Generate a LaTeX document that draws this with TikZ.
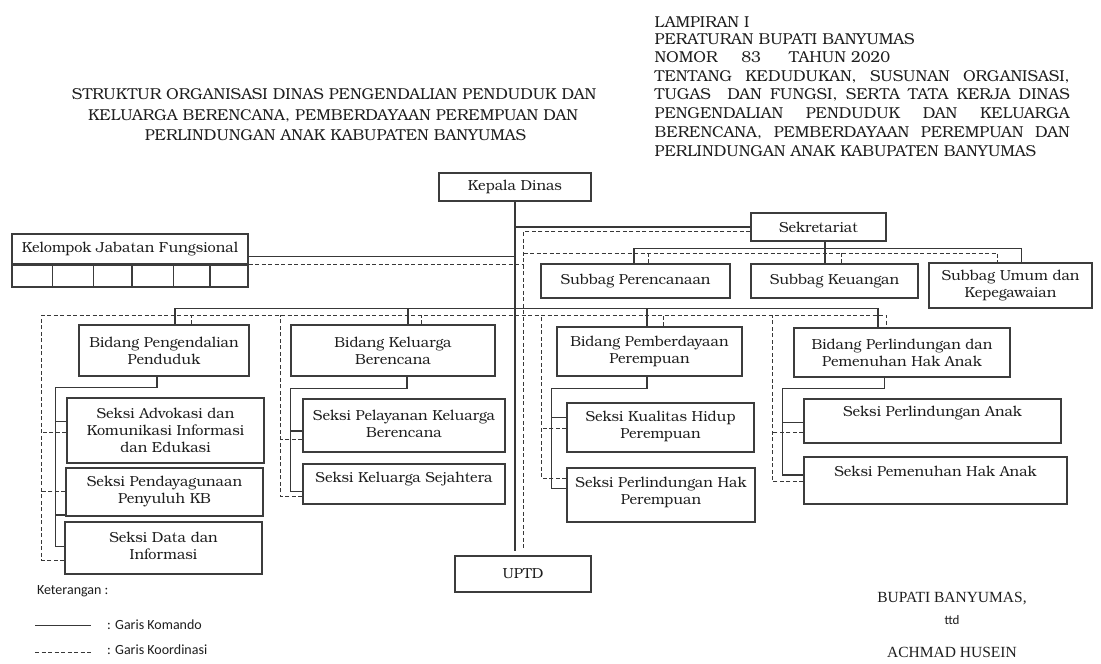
\documentclass[tikz,border=0pt]{standalone}
\usepackage{fontspec}
\setmainfont{TeX Gyre Bonum}
\newfontfamily\tmsfont{Liberation Serif}
\newfontfamily\calfont{Carlito}
\definecolor{bx}{HTML}{3C3C3C}
\definecolor{ln}{HTML}{383838}
\definecolor{tx}{HTML}{1E1E1E}
\tikzset{
 obox/.style={draw=bx, line width=1.2pt, inner sep=0pt, fill=white},
 btxt/.style={align=center, inner sep=0pt, text=tx, font=\fontsize{14.5}{17}\selectfont},
 cmd/.style={draw=ln, line width=1.1pt},
 crd/.style={draw=ln, line width=0.9pt, dash pattern=on 4pt off 2.5pt},
 legd/.style={draw=ln, line width=0.9pt, dash pattern=on 4pt off 2.5pt},
 htxt/.style={anchor=base west, inner sep=0pt, text=tx, font=\fontsize{15.8}{18}\selectfont},
 ttxt/.style={anchor=base, inner sep=0pt, text=tx, font=\fontsize{15.8}{18}\selectfont},
 lgt/.style={inner sep=0pt, text=tx, font=\calfont\fontsize{14}{16}\selectfont},
 sig/.style={inner sep=0pt, text=tx, font=\tmsfont\fontsize{15.5}{18}\selectfont},
}
\newcommand\obx[7]{%
 \node[obox, minimum width={(#4-#2)*1pt}, minimum height={(#5-#3)*1pt}] (#1) at ({(#2+#4)/2},{(#3+#5)/2}) {};
 \node[btxt] (#1-t) at ({(#2+#4)/2},{(#3+#5)/2+#6}) {#7};
}
\begin{document}
\begin{tikzpicture}[x=1pt,y=-1pt]
\useasboundingbox[fill=white] (0,0) rectangle (1101,664);

% title
\node[ttxt] (t1) at (334,99.8) {STRUKTUR ORGANISASI DINAS PENGENDALIAN PENDUDUK DAN};
\node[ttxt] (t2) at (333,120.4) {KELUARGA BERENCANA, PEMBERDAYAAN PEREMPUAN DAN};
\node[ttxt] (t3) at (335.5,140.7) {PERLINDUNGAN ANAK KABUPATEN BANYUMAS};

% header
\node[htxt] (h1) at (654.5,27.1) {LAMPIRAN I};
\node[htxt] (h2) at (654.5,44.7) {PERATURAN BUPATI BANYUMAS};
\node[htxt] (h3) at (654.5,62.7) {NOMOR\hspace{24pt}83\hspace{28pt}TAHUN 2020};
\node[htxt] (h4) at (654.5,81.4) {\makebox[415pt][s]{TENTANG KEDUDUKAN, SUSUNAN ORGANISASI,}};
\node[htxt] (h5) at (654.5,99.7) {\makebox[415pt][s]{TUGAS\ \ DAN FUNGSI, SERTA TATA KERJA DINAS}};
\node[htxt] (h6) at (654.5,118.7) {\makebox[415pt][s]{PENGENDALIAN PENDUDUK DAN KELUARGA}};
\node[htxt] (h7) at (654.5,137.7) {\makebox[415pt][s]{BERENCANA, PEMBERDAYAAN PEREMPUAN DAN}};
\node[htxt] (h8) at (654.5,156.4) {PERLINDUNGAN ANAK KABUPATEN BANYUMAS};

% boxes
\obx{kd}{439}{173}{591}{201}{0}{Kepala Dinas}
\obx{sek}{751}{213}{886}{241}{0}{Sekretariat}
\obx{sp}{541}{264}{730}{298}{0}{Subbag Perencanaan}
\obx{sk}{751}{264}{918}{298}{0}{Subbag Keuangan}
\obx{su}{929}{263}{1092}{308}{0}{Subbag Umum dan\\Kepegawaian}
\obx{kjf}{12}{234}{248}{264}{0}{Kelompok Jabatan Fungsional}
\node[obox, minimum width=40.5pt, minimum height=23pt] (kc1) at (32.25,275.5) {};
\node[obox, minimum width=41.1pt, minimum height=23pt] (kc2) at (73.05,275.5) {};
\node[obox, minimum width=38.4pt, minimum height=23pt] (kc3) at (112.8,275.5) {};
\node[obox, minimum width=41.6pt, minimum height=23pt] (kc4) at (152.8,275.5) {};
\node[obox, minimum width=36.4pt, minimum height=23pt] (kc5) at (191.8,275.5) {};
\node[obox, minimum width=38pt, minimum height=23pt] (kc6) at (229,275.5) {};
\draw[draw=bx, line width=2pt] (kjf.south west) -- (kjf.south east);

\obx{b1}{79}{325}{249}{376}{0}{Bidang Pengendalian\\Penduduk}
\obx{b2}{291}{325}{495}{376}{0}{Bidang Keluarga\\Berencana}
\obx{b3}{557}{327}{742}{376}{0}{Bidang Pemberdayaan\\Perempuan}
\obx{b4}{794}{328}{1010}{377}{0}{Bidang Perlindungan dan\\Pemenuhan Hak Anak}
\obx{s11}{67}{398}{264}{463}{0}{Seksi Advokasi dan\\Komunikasi Informasi\\dan Edukasi}
\obx{s12}{66}{468}{263}{516}{0}{Seksi Pendayagunaan\\Penyuluh KB}
\obx{s13}{65}{522}{262}{574}{-2}{Seksi Data dan\\Informasi}
\obx{s21}{303}{399}{505}{452}{-2}{Seksi Pelayanan Keluarga\\Berencana}
\obx{s22}{303}{464}{505}{504}{-5}{Seksi Keluarga Sejahtera}
\obx{s31}{567}{403}{754}{452}{-1.5}{Seksi Kualitas Hidup\\Perempuan}
\obx{s32}{567}{468}{755}{522}{-3}{Seksi Perlindungan Hak\\Perempuan}
\obx{s41}{804}{399}{1061}{443}{-7.5}{Seksi Perlindungan Anak}
\obx{s42}{804}{457}{1067}{504}{-9}{Seksi Pemenuhan Hak Anak}
\obx{uptd}{455}{556}{591}{592}{0}{UPTD}

% coordinates
\coordinate (mEnd) at (515,550.7);
\coordinate (dTop) at (523.5,231.7);
\coordinate (dEnd) at (523.5,550.7);
\coordinate (sbL) at (634,248.7);
\coordinate (sbR) at (1021.6,248.7);
\coordinate (dsL) at (523.5,253.3);
\coordinate (dsR) at (997.5,253.3);
\coordinate (bbus) at (0,308.3);
\coordinate (dbus) at (0,315);
\coordinate (dL1) at (41.7,0);
\coordinate (dL2) at (280.7,0);
\coordinate (dL3) at (541.5,0);
\coordinate (dL4) at (772.5,0);
\coordinate (c1) at (55.5,387.3);
\coordinate (c2) at (290.7,388.3);
\coordinate (c3) at (551.7,388.3);
\coordinate (c4) at (782.7,388.3);

% command lines
\draw[cmd] (kd.south) -- (kd.south |- mEnd);
\draw[cmd] (kd.south |- sek.west) -- (sek.west);
\draw[cmd] ([xshift=6.5pt]sek.south) -- ([xshift=6.5pt]sek.south |- sk.north);
\draw[cmd] (sp.north -| sbL) -- (sbL) -- (sbR) -- (su.north -| sbR);
\draw[cmd] ([yshift=-7.7pt]kjf.east) -- ([yshift=-7.7pt]kjf.east -| kd.south);
\draw[cmd] ([xshift=11pt]b1.north) -- ([xshift=11pt]b1.north |- bbus) -- ([xshift=-24pt]b4.north |- bbus) -- ([xshift=-24pt]b4.north);
\draw[cmd] ([xshift=15pt]b2.north) -- ([xshift=15pt]b2.north |- bbus);
\draw[cmd] ([xshift=-2.5pt]b3.north) -- ([xshift=-2.5pt]b3.north |- bbus);

\draw[cmd] ([xshift=-7pt]b1.south) |- (c1) |- ([yshift=1.3pt]s13.west);
\draw[cmd] ([yshift=8.8pt]s11.west) -- ([yshift=8.8pt]s11.west -| c1);
\draw[cmd] ([yshift=-23pt]s12.west) -- ([yshift=-23pt]s12.west -| c1);
\draw[cmd] ([xshift=14pt]b2.south) |- (c2) |- ([yshift=-7.7pt]s22.west);
\draw[cmd] ([yshift=-5.5pt]s21.west) -- ([yshift=-5.5pt]s21.west -| c2);
\draw[cmd] ([xshift=-2.5pt]b3.south) |- (c3) |- ([yshift=6.7pt]s32.west);
\draw[cmd] ([yshift=10.2pt]s31.west) -- ([yshift=10.2pt]s31.west -| c3);
\draw[cmd] ([xshift=-17.6pt]b4.south) |- (c4) |- ([yshift=5.5pt]s42.west);
\draw[cmd] ([yshift=-1.7pt]s41.west) -- ([yshift=-1.7pt]s41.west -| c4);

% coordination lines
\draw[crd] ([yshift=-4.7pt]sek.west) -- (dTop) -- (dEnd);
\draw[crd] (dsL) -- (dsR) -- (su.north -| dsR);
\draw[crd] ([xshift=13pt]sp.north) -- ([xshift=13pt]sp.north |- dsL);
\draw[crd] ([xshift=7.3pt]sk.north) -- ([xshift=7.3pt]sk.north |- dsL);
\draw[crd] (kjf.south east) -- (kjf.south east -| dTop);
\draw[crd] ([yshift=-12pt]s13.west) -- ([yshift=-12pt]s13.west -| dL1) -- (dL1 |- dbus) -- ([xshift=-15.7pt]b4.north |- dbus) -- ([xshift=-15.7pt]b4.north);
\draw[crd] ([xshift=27.7pt]b1.north) -- ([xshift=27.7pt]b1.north |- dbus);
\draw[crd] ([xshift=28.5pt]b2.north) -- ([xshift=28.5pt]b2.north |- dbus);
\draw[crd] ([xshift=14pt]b3.north) -- ([xshift=14pt]b3.north |- dbus);
\draw[crd] ([yshift=-2.2pt]s11.west) -- ([yshift=-2.2pt]s11.west -| dL1);
\draw[crd] ([yshift=1pt]s12.west) -- ([yshift=1pt]s12.west -| dL1);
\draw[crd] ([yshift=-12.7pt]s22.west) -- ([yshift=-12.7pt]s22.west -| dL2) -- (dL2 |- dbus);
\draw[crd] ([yshift=-13.8pt]s21.west) -- ([yshift=-13.8pt]s21.west -| dL2);
\draw[crd] ([yshift=16.7pt]s32.west) -- ([yshift=16.7pt]s32.west -| dL3) -- (dL3 |- dbus);
\draw[crd] ([yshift=-0.8pt]s31.west) -- ([yshift=-0.8pt]s31.west -| dL3);
\draw[crd] ([yshift=-1.2pt]s42.west) -- ([yshift=-1.2pt]s42.west -| dL4) -- (dL4 |- dbus);
\draw[crd] ([yshift=-11.7pt]s41.west) -- ([yshift=-11.7pt]s41.west -| dL4);

% legend
\node[lgt, anchor=west] (ket) at (36.8,591.7) {Keterangan :};
\coordinate (l1a) at (35,625.7);
\coordinate (l1b) at (91,625.7);
\draw[cmd] (l1a) -- (l1b);
\node[lgt, anchor=west] (lk) at (107,625) {: Garis Komando};
\coordinate (l2a) at (35,652.3);
\coordinate (l2b) at (93,652.3);
\draw[legd] (l2a) -- (l2b);
\node[lgt, anchor=west] (lko) at (107,650) {: Garis Koordinasi};

% signature
\node[sig] (bup) at (952,598.3) {BUPATI BANYUMAS,};
\node[lgt, font=\calfont\fontsize{13}{15}\selectfont] (ttd) at (952,620) {ttd};
\node[sig] (ach) at (952,652.3) {ACHMAD HUSEIN};
\end{tikzpicture}
\end{document}
